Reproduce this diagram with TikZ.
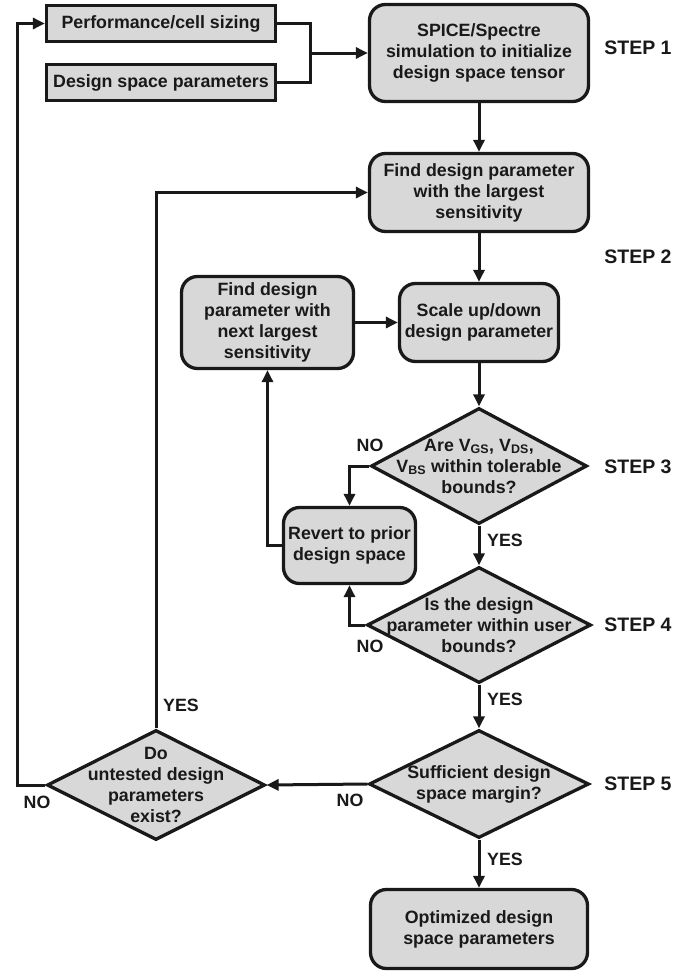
\documentclass[tikz,border=0pt]{standalone}
\usepackage{fontspec}
\setmainfont{Liberation Sans}
\usetikzlibrary{arrows.meta,shapes.geometric}
\definecolor{boxgray}{RGB}{216,216,216}
\definecolor{ink}{RGB}{25,25,25}
\begin{document}
\begin{tikzpicture}[x=1pt,y=-1pt,
  font=\fontsize{17.8}{21}\selectfont\bfseries,
  sqbox/.style={draw=ink, fill=boxgray, line width=3.3pt, align=center, inner sep=0pt, text=ink},
  rbox/.style={sqbox, rounded corners=16pt},
  dia/.style={diamond, draw=ink, fill=boxgray, line width=3.3pt, inner sep=0pt},
  txt/.style={align=center, text=ink, inner sep=0pt},
  ln/.style={draw=ink, line width=3pt},
  arr/.style={ln, -{Triangle[length=12pt,width=11pt]}},
  steplab/.style={text=ink, font=\fontsize{19.5}{23}\selectfont\bfseries},
  lab/.style={text=ink, inner sep=0pt}]
\useasboundingbox (0,0) rectangle (695,972);

% boxes
\node[sqbox, minimum width=229pt, minimum height=36pt] (perf) at (161,23.5) {Performance/cell sizing};
\node[sqbox, minimum width=229pt, minimum height=36pt] (dsp) at (161,82.5) {Design space parameters};
\node[rbox, minimum width=219pt, minimum height=97pt] (spice) at (479,53) {SPICE/Spectre\\simulation to initialize\\design space tensor};
\node[rbox, minimum width=219pt, minimum height=78pt] (find) at (479,192.5) {Find design parameter\\with the largest\\sensitivity};
\node[rbox, minimum width=159pt, minimum height=78pt] (scale) at (479,322.5) {Scale up/down\\design parameter};
\node[rbox, minimum width=172pt, minimum height=92pt] (next) at (267.5,322.5) {Find design\\parameter with\\next largest\\sensitivity};
\node[rbox, minimum width=132pt, minimum height=76pt] (revert) at (349.5,545.5) {Revert to prior\\design space};
\node[rbox, minimum width=217pt, minimum height=79pt] (opt) at (479,929) {Optimized design\\space parameters};

% diamonds
\node[dia, minimum width=216pt, minimum height=116pt] (d1) at (479,466) {};
\node[txt] at (d1) {Are V\textsubscript{GS}, V\textsubscript{DS},\\V\textsubscript{BS} within tolerable\\bounds?};
\node[dia, minimum width=224pt, minimum height=116pt] (d2) at (479,625) {};
\node[txt] at (d2) {Is the design\\parameter within user\\bounds?};
\node[dia, minimum width=220pt, minimum height=108pt] (d3) at (479,784) {};
\node[txt] at (d3) {Sufficient design\\space margin?};
\node[dia, minimum width=218pt, minimum height=110pt] (d4) at (156,785) {};
\node[txt] at (d4) {Do\\untested design\\parameters\\exist?};

% step labels
\node[steplab] (s1) at (638,48) {STEP 1};
\node[steplab] (s2) at (638,257) {STEP 2};
\node[steplab] (s3) at (638,467) {STEP 3};
\node[steplab] (s4) at (638,625) {STEP 4};
\node[steplab] (s5) at (638,784) {STEP 5};

% connectors
\coordinate (jn) at (310,53);
\coordinate (lp) at (17,0);
\draw[ln] (perf.east) -| (jn);
\draw[ln] (dsp.east) -| (jn);
\draw[arr] (jn) -- (spice.west |- jn);
\draw[arr] (spice.south) -- (find.north);
\draw[arr] (find.south) -- (scale.north);
\draw[arr] (scale.south) -- (d1.north);
\draw[arr] (next.east) -- (scale.west);
\draw[arr] (d1.west) -| (revert.north);
\draw[arr] (d1.south) -- (d2.north);
\draw[arr] (d2.west) -| (revert.south);
\draw[arr] (revert.west) -| (next.south);
\draw[arr] (d2.south) -- (d3.north);
\draw[arr] (d3.west) -- (d4.east);
\draw[arr] (d3.south) -- (opt.north);
\draw[arr] (d4.north) |- (find.west);
\draw[arr] (d4.west) -- (d4.west -| lp) |- (perf.west);

% branch labels
\node[lab] (no1) at (370,445) {NO};
\node[lab, anchor=west] (yes1) at (487,540) {YES};
\node[lab] (no2) at (370,646) {NO};
\node[lab, anchor=west] (yes2) at (487,699) {YES};
\node[lab] (no3) at (350,800) {NO};
\node[lab, anchor=west] (yes3) at (487,859) {YES};
\node[lab, anchor=west] (yes4) at (163,705) {YES};
\node[lab] (no4) at (37,802) {NO};
\end{tikzpicture}
\end{document}
